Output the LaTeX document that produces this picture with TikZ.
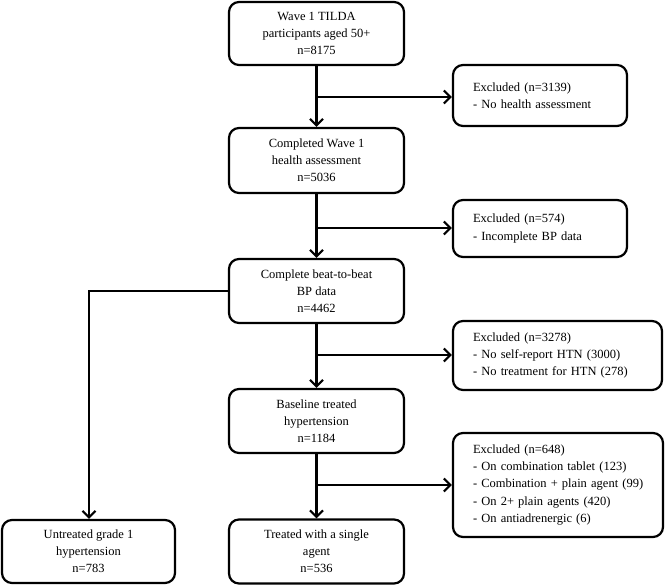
\documentclass[tikz,border=0pt]{standalone}
\usepackage{fontspec}
\setmainfont{Liberation Serif}
\usetikzlibrary{arrows.meta}
\tikzset{
  box/.style={draw=black, line width=2.2pt, rounded corners=10pt, fill=white,
    align=center, inner sep=0pt, font=\fontsize{12.5}{17.2}\selectfont},
  exbox/.style={draw=black, line width=2.2pt, rounded corners=10pt, fill=white,
    align=left, inner xsep=20pt, inner ysep=0pt, font=\fontsize{12.5}{17.2}\selectfont},
  conn/.style={line width=2.2pt, line join=miter},
  arr/.style={conn, -{Straight Barb[length=6.5pt,width=13pt,line width=2.2pt]}}
}
\begin{document}
\begin{tikzpicture}[x=1pt,y=-1pt]
\useasboundingbox (0,0) rectangle (665,585);
% main column
\node[box, minimum width=175pt, minimum height=63pt] (b1) at (316.5,33.5)
  {Wave 1 TILDA\\participants aged 50+\\n=8175};
\node[box, minimum width=175pt, minimum height=65pt] (b2) at (316.5,160.5)
  {Completed Wave 1\\health assessment\\n=5036};
\node[box, minimum width=175pt, minimum height=64pt] (b3) at (316.5,291)
  {Complete beat-to-beat\\BP data\\n=4462};
\node[box, minimum width=175pt, minimum height=64pt] (b4) at (316.5,421)
  {Baseline treated\\hypertension\\n=1184};
\node[box, minimum width=175pt, minimum height=64pt] (b6) at (316.5,551.5)
  {Treated with a single\\agent\\n=536};
\node[box, minimum width=173pt, minimum height=63pt] (b5) at (88.5,551.5)
  {Untreated grade 1\\hypertension\\n=783};
% exclusion boxes
\node[exbox, text width=134pt, minimum height=61pt] (e1) at (540,95.5)
  {\mbox{Excluded (n=3139)}\\\mbox{- No health assessment}};
\node[exbox, text width=134pt, minimum height=57pt] (e2) at (540,228.5)
  {\mbox{Excluded (n=574)}\\\mbox{- Incomplete BP data}};
\node[exbox, text width=169pt, minimum height=69pt] (e3) at (557.5,355.5)
  {\mbox{Excluded (n=3278)}\\\mbox{- No self-report HTN (3000)}\\\mbox{- No treatment for HTN (278)}};
\node[exbox, text width=170pt, minimum height=104pt] (e4) at (558,485)
  {\mbox{Excluded (n=648)}\\\mbox{- On combination tablet (123)}\\\mbox{- Combination + plain agent (99)}\\\mbox{- On 2+ plain agents (420)}\\\mbox{- On antiadrenergic (6)}};
% junctions
\coordinate (j1) at (316.5,97);
\coordinate (j2) at (316.5,228);
\coordinate (j3) at (316.5,355);
\coordinate (j4) at (316.5,485);
\coordinate (lc) at (89,291);
% connectors
\draw[arr] (b1.south) -- (b2.north);
\draw[arr] (b2.south) -- (b3.north);
\draw[arr] (b3.south) -- (b4.north);
\draw[arr] (b4.south) -- (b6.north);
\draw[arr] (j1) -- (j1 -| e1.west);
\draw[arr] (j2) -- (j2 -| e2.west);
\draw[arr] (j3) -- (j3 -| e3.west);
\draw[arr] (j4) -- (j4 -| e4.west);
\draw[arr] (b3.west) -- (lc) -- (lc |- b5.north);
\end{tikzpicture}
\end{document}
